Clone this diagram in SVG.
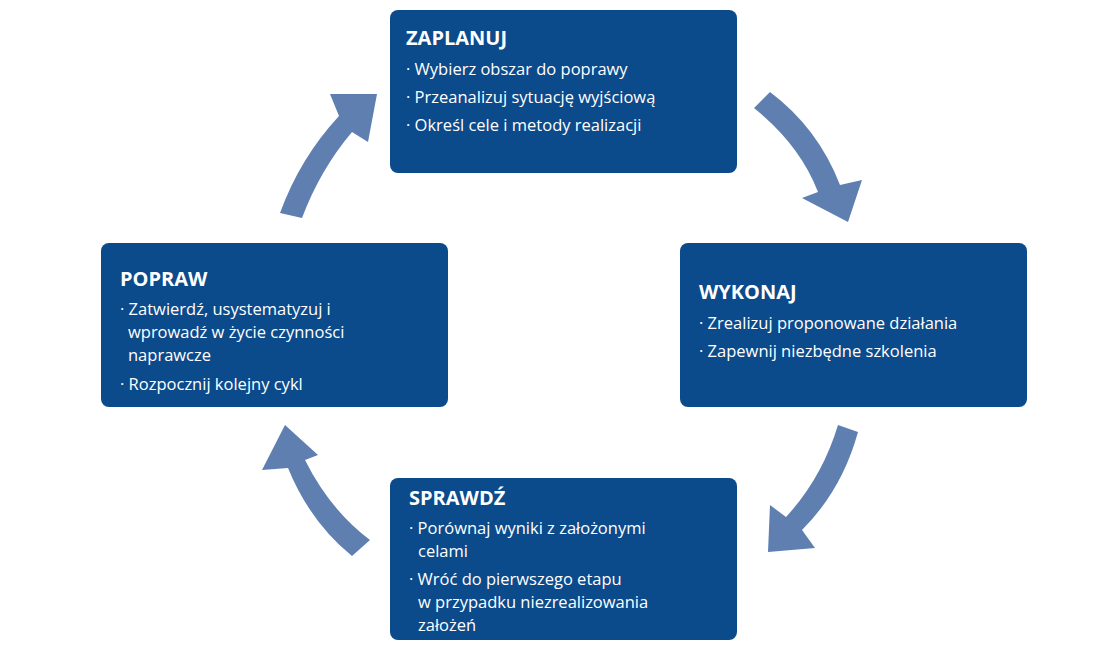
<svg xmlns="http://www.w3.org/2000/svg" width="1120" height="650" viewBox="0 0 1120 650">
<style>
.box{fill:#0b4a8b}
.t{font-family:"Open Sans","Liberation Sans",sans-serif;fill:#fff;font-size:20px;font-weight:bold}
.i{font-family:"Open Sans","Liberation Sans",sans-serif;fill:#fff;font-size:16.5px}
.arr{fill:#5f7fb1}
</style>
<rect width="1120" height="650" fill="#fff"/>
<g id="connectors">
<path class="arr" d="M754 108 Q800 145 818 192 L802 198 L848 222 L862 180 L840 185 Q818 128 770 92 Z"/>
<path class="arr" d="M838 425 L858 432 Q842 490 802 530 L815 548 L768 552 L770 505 L786 517 Q822 478 838 425 Z"/>
<path class="arr" d="M370 540 L352 556 Q310 522 288 468 L262 470 L285 425 L318 455 L305 460 Q330 510 370 540 Z"/>
<path class="arr" d="M280 213 L302 218 Q320 170 352 132 L368 142 L377 94 L330 94 L339 116 Q300 158 280 213 Z"/>
</g>
<g id="zaplanuj">
<rect class="box" x="390" y="10" width="347" height="163" rx="8"/>
<text class="t" x="406" y="45">ZAPLANUJ</text>
<text class="i" x="406" y="75">· Wybierz obszar do poprawy</text>
<text class="i" x="406" y="103">· Przeanalizuj sytuację wyjściową</text>
<text class="i" x="406" y="131">· Określ cele i metody realizacji</text>
</g>
<g id="wykonaj">
<rect class="box" x="680" y="243" width="347" height="164" rx="8"/>
<text class="t" x="699" y="299">WYKONAJ</text>
<text class="i" x="699" y="329">· Zrealizuj proponowane działania</text>
<text class="i" x="699" y="357">· Zapewnij niezbędne szkolenia</text>
</g>
<g id="popraw">
<rect class="box" x="101" y="243" width="347" height="164" rx="8"/>
<text class="t" x="120" y="286">POPRAW</text>
<text class="i" x="120" y="315">· Zatwierdź, usystematyzuj i</text>
<text class="i" x="128" y="338">wprowadź w życie czynności</text>
<text class="i" x="128" y="361">naprawcze</text>
<text class="i" x="120" y="390">· Rozpocznij kolejny cykl</text>
</g>
<g id="sprawdz">
<rect class="box" x="390" y="478" width="347" height="162" rx="8"/>
<text class="t" x="409" y="505">SPRAWDŹ</text>
<text class="i" x="409" y="534">· Porównaj wyniki z założonymi</text>
<text class="i" x="418" y="557">celami</text>
<text class="i" x="409" y="585">· Wróć do pierwszego etapu</text>
<text class="i" x="418" y="608">w przypadku niezrealizowania</text>
<text class="i" x="418" y="631">założeń</text>
</g>
</svg>
